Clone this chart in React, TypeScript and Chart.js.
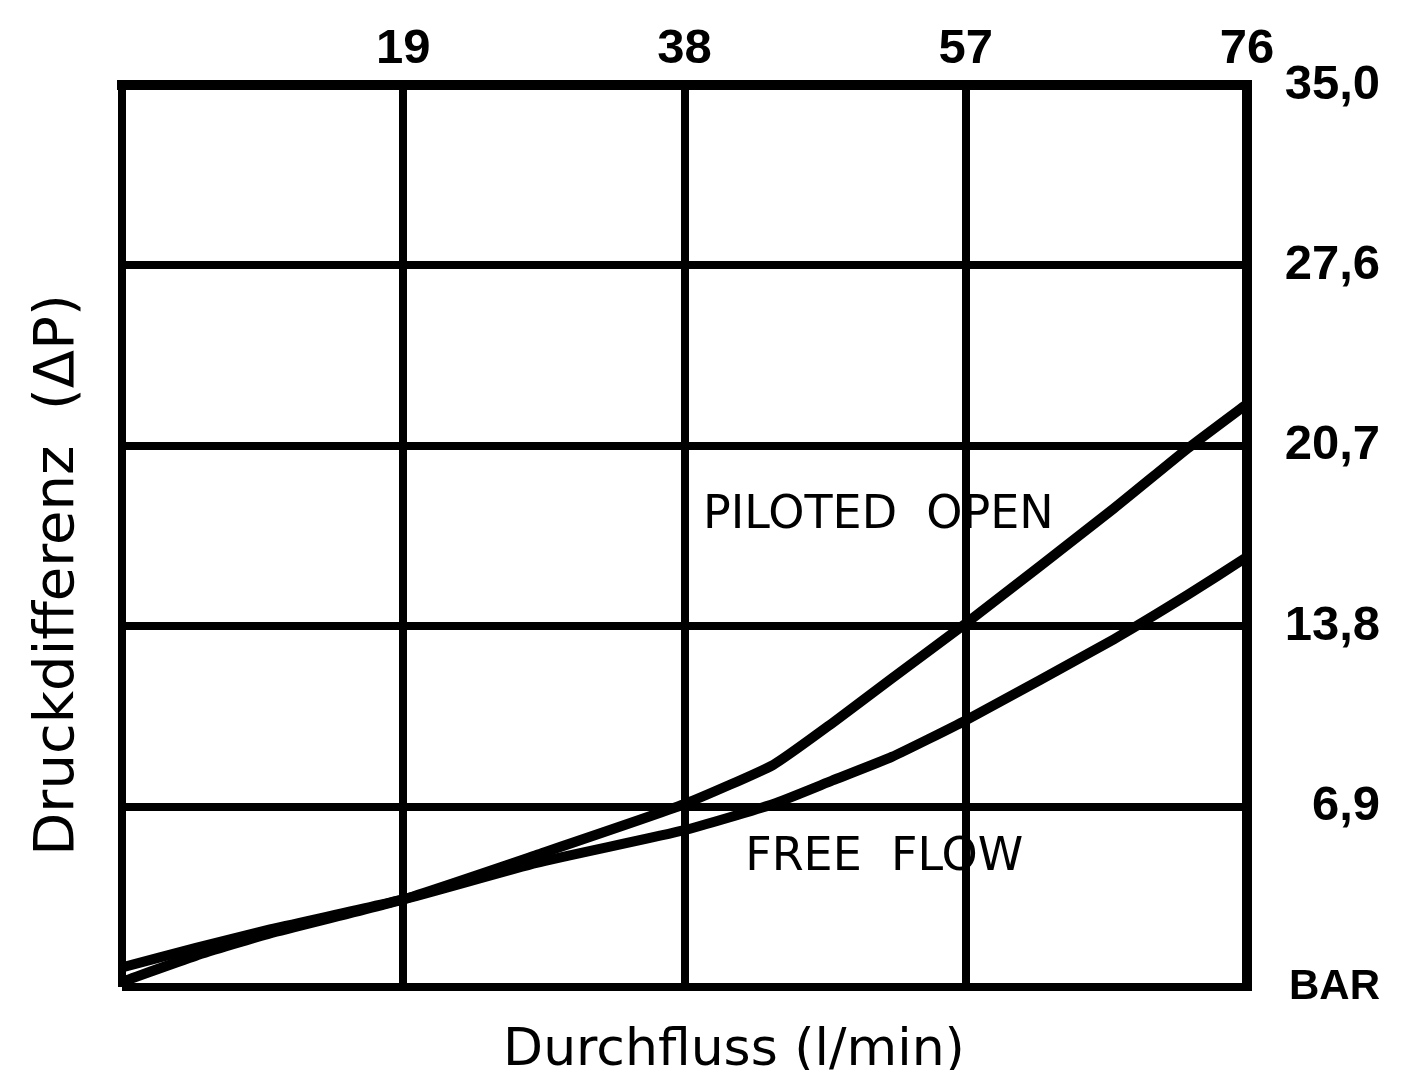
import React, { useEffect, useRef } from 'react';
import { Chart, registerables } from 'chart.js';

Chart.register(...registerables);

// Flow (l/min) sample positions along both curves
const flowValues = [0, 5, 10, 19, 28, 38, 44, 48, 52, 57, 67, 72, 76];
// Pressure difference (bar)
const pilotedOpenValues = [0.2, 1.2, 2.05, 3.35, 5.05, 7.0, 8.5, 10.1, 11.8, 13.9, 18.3, 20.6, 22.3];
const freeFlowValues = [0.75, 1.5, 2.2, 3.35, 4.75, 6.0, 7.0, 7.9, 8.8, 10.2, 13.3, 15.0, 16.45];

const xTickValues = [0, 19, 38, 57, 76];
const xTickLabels = ['', '19', '38', '57', '76'];
const yTickValues = [0, 6.9, 13.8, 20.7, 27.6, 34.5];
const yTickLabels = ['BAR', '6,9', '13,8', '20,7', '27,6', '35,0'];

const curveLabels = ['PILOTED  OPEN', 'FREE  FLOW'];
const curveLabelFlow = [39.25, 42.1];
const curveLabelPressure = [17.56, 4.48];

const xTitle = 'Durchfluss (l/min)';
const yTitle = 'Druckdifferenz  (ΔP)';

const W = 1413;
const H = 1070;

const textPlugin = {
  id: 'cadText',
  afterDraw(chart: any) {
    const ctx = chart.ctx;
    const xs = chart.scales.x;
    const ys = chart.scales.y;
    ctx.save();
    ctx.fillStyle = '#000';
    ctx.font = '46px "DejaVu Sans"';
    ctx.textAlign = 'left';
    ctx.textBaseline = 'alphabetic';
    curveLabels.forEach((t, i) => {
      ctx.fillText(t, xs.getPixelForValue(curveLabelFlow[i]), ys.getPixelForValue(curveLabelPressure[i]));
    });
    ctx.font = '52px "DejaVu Sans"';
    ctx.textAlign = 'center';
    ctx.fillText(xTitle, 734, 1065);
    ctx.translate(73, 575);
    ctx.rotate(-Math.PI / 2);
    ctx.font = '56px "DejaVu Sans"';
    ctx.fillText(yTitle, 0, 0);
    ctx.restore();
  },
};

export default function App() {
  const canvasRef = useRef<HTMLCanvasElement | null>(null);

  useEffect(() => {
    if (!canvasRef.current) return;
    Chart.defaults.font.family = '"Liberation Sans", Arial, sans-serif';
    const chart = new Chart(canvasRef.current, {
      type: 'line',
      data: {
        datasets: [
          {
            label: 'PILOTED OPEN',
            data: flowValues.map((x, i) => ({ x, y: pilotedOpenValues[i] })),
            borderColor: '#000',
            borderWidth: 10,
            pointRadius: 0,
            tension: 0.15,
            fill: false,
            borderCapStyle: 'round',
            borderJoinStyle: 'round',
          },
          {
            label: 'FREE FLOW',
            data: flowValues.map((x, i) => ({ x, y: freeFlowValues[i] })),
            borderColor: '#000',
            borderWidth: 10,
            pointRadius: 0,
            tension: 0.15,
            fill: false,
            borderCapStyle: 'round',
            borderJoinStyle: 'round',
          },
        ],
      },
      options: {
        animation: false,
        responsive: false,
        layout: { padding: { left: 122, bottom: 83, top: 0, right: 33 } },
        plugins: {
          legend: { display: false },
          tooltip: { enabled: false },
        },
        scales: {
          x: {
            type: 'linear',
            position: 'top',
            min: 0,
            max: 76,
            afterBuildTicks: (scale: any) => {
              scale.ticks = xTickValues.map((v) => ({ value: v }));
            },
            afterFit: (scale: any) => {
              scale.height = 85;
            },
            ticks: {
              color: '#000',
              padding: 6,
              maxRotation: 0,
              autoSkip: false,
              font: { size: 49, weight: 'bold' },
              callback: (_v: any, i: number) => xTickLabels[i],
            },
            grid: { color: '#000', lineWidth: 8, drawTicks: false },
            border: { display: true, color: '#000', width: 10 },
          },
          y: {
            type: 'linear',
            position: 'right',
            min: 0,
            max: 34.5,
            afterBuildTicks: (scale: any) => {
              scale.ticks = yTickValues.map((v) => ({ value: v }));
            },
            afterFit: (scale: any) => {
              scale.width = 133;
            },
            ticks: {
              color: '#000',
              padding: 4,
              crossAlign: 'far',
              autoSkip: false,
              font: (ctx: any) => ({ size: ctx.index === 0 ? 42 : 49, weight: 'bold' }),
              callback: (_v: any, i: number) => yTickLabels[i],
            },
            grid: { color: '#000', lineWidth: 8, drawTicks: false },
            border: { display: true, color: '#000', width: 10 },
          },
        },
      },
      plugins: [textPlugin],
    } as any);
    return () => chart.destroy();
  }, []);

  return (
    <div style={{ position: 'fixed', left: 0, top: 0, width: W, height: H, background: '#fff' }}>
      <canvas ref={canvasRef} width={W} height={H} style={{ width: W, height: H, display: 'block' }} />
    </div>
  );
}
